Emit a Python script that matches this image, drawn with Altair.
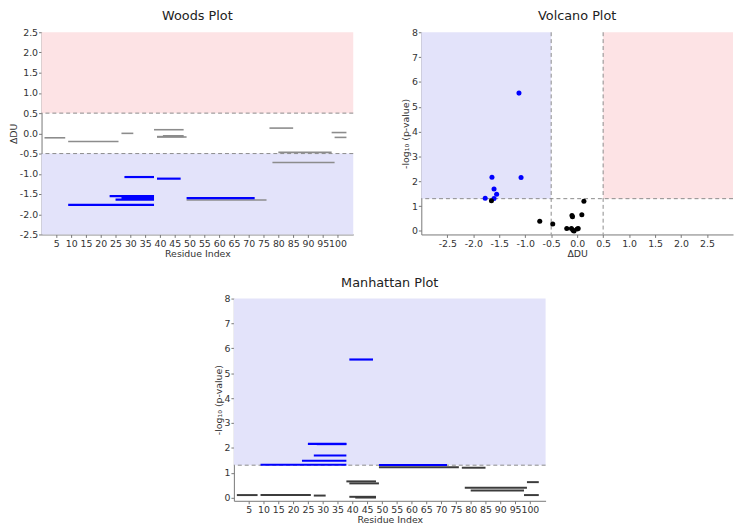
import altair as alt
import pandas as pd

# ---- peptide data ----
pep_start = [9, 23, 25, 27, 28, 39, 49, 1, 9, 27, 38, 39, 39, 41, 49, 77, 80, 78, 98, 99]
pep_end = [38, 38, 38, 38, 38, 47, 72, 8, 26, 31, 48, 49, 48, 48, 76, 85, 98, 99, 103, 103]
delta_du = [-1.77, -1.55, -1.64, -1.60, -1.08, -1.12, -1.60, -0.11, -0.20, 0.00, 0.09, -0.09,
            -0.08, -0.06, -1.65, 0.13, -0.47, -0.72, 0.02, -0.10]
neg_log_p = [1.32, 1.48, 2.16, 1.69, 2.15, 5.55, 1.31, 0.10, 0.10, 0.08, 0.65, 0.57,
             0.03, 0.00, 1.22, 1.20, 0.28, 0.39, 0.10, 0.62]

du_cut = 0.5
p_cut = 1.30103

residue_ticks = list(range(5, 101, 5))
du_ticks = [-2.5, -2.0, -1.5, -1.0, -0.5, 0.0, 0.5, 1.0, 1.5, 2.0, 2.5]
volcano_x_ticks = [-2.5, -2.0, -1.5, -1.0, -0.5, 0.0, 0.5, 1.0, 1.5, 2.0, 2.5]
p_ticks = [0, 1, 2, 3, 4, 5, 6, 7, 8]

BLUE_BG = "#e3e3fa"
RED_BG = "#fde3e5"
W, H = 316, 205
HYPHEN = "replace(format(datum.value, '.1f'), '\u2212', '-')"

df = pd.DataFrame({"start": pep_start, "end": pep_end, "ddu": delta_du, "p": neg_log_p})
df["sig"] = (df["p"] > p_cut) & (df["ddu"].abs() > du_cut)
sig_df = df[df["sig"]]
ns_df = df[~df["sig"]]

res_scale = alt.Scale(domain=[0, 105.3], nice=False, zero=False)
res_axis = alt.Axis(values=residue_ticks, tickCount=100, title="Residue Index",
                    labelOverlap=False, labelFlush=False, grid=False)

# ---------------- Woods plot ----------------
woods_y_scale = alt.Scale(domain=[-2.5, 2.5], nice=False)
woods_y_axis = alt.Axis(values=du_ticks, tickCount=100, labelExpr=HYPHEN, title="ΔDU",
                        grid=False, labelOverlap=False)

woods_bands = pd.DataFrame({"y": [du_cut, -2.5], "y2": [2.5, -du_cut], "c": [RED_BG, BLUE_BG]})
w_bg = alt.Chart(woods_bands).mark_rect().encode(
    x=alt.value(0), x2=alt.value(W),
    y=alt.Y("y:Q", scale=woods_y_scale, axis=woods_y_axis), y2="y2:Q",
    color=alt.Color("c:N", scale=None),
)
w_rules = alt.Chart(pd.DataFrame({"y": [du_cut, -du_cut]})).mark_rule(
    color="#8a8a8a", strokeDash=[4, 3], strokeWidth=1
).encode(y="y:Q")
w_ns = alt.Chart(ns_df).mark_rule(color="#8c8c8c", strokeWidth=1.6).encode(
    x=alt.X("start:Q", scale=res_scale, axis=res_axis), x2="end:Q",
    y=alt.Y("ddu:Q", scale=woods_y_scale),
)
w_sig = alt.Chart(sig_df).mark_rule(color="#0000ff", strokeWidth=2.2).encode(
    x=alt.X("start:Q", scale=res_scale), x2="end:Q",
    y=alt.Y("ddu:Q", scale=woods_y_scale),
)
woods = alt.layer(w_bg, w_rules, w_ns, w_sig).properties(
    width=W, height=H, title="Woods Plot"
)

# ---------------- Volcano plot ----------------
vx_scale = alt.Scale(domain=[-3, 3], nice=False, zero=False)
vy_scale = alt.Scale(domain=[-0.14, 8], nice=False, zero=False)
vx_axis = alt.Axis(values=volcano_x_ticks, tickCount=100, labelExpr=HYPHEN, title="ΔDU",
                   grid=False, labelOverlap=False)
vy_axis = alt.Axis(values=p_ticks, tickCount=100, format="d", title="-log₁₀ (p-value)",
                   grid=False, labelOverlap=False)

v_bands = pd.DataFrame({"x": [-3, du_cut], "x2": [-du_cut, 3], "y": [p_cut, p_cut],
                        "y2": [8, 8], "c": [BLUE_BG, RED_BG]})
v_bg = alt.Chart(v_bands).mark_rect().encode(
    x=alt.X("x:Q", scale=vx_scale, axis=vx_axis), x2="x2:Q",
    y=alt.Y("y:Q", scale=vy_scale, axis=vy_axis), y2="y2:Q",
    color=alt.Color("c:N", scale=None),
)
v_vrules = alt.Chart(pd.DataFrame({"x": [-du_cut, du_cut]})).mark_rule(
    color="#8a8a8a", strokeDash=[4, 3], strokeWidth=1
).encode(x=alt.X("x:Q", scale=vx_scale))
v_hrule = alt.Chart(pd.DataFrame({"y": [p_cut]})).mark_rule(
    color="#8a8a8a", strokeDash=[4, 3], strokeWidth=1
).encode(y=alt.Y("y:Q", scale=vy_scale))
v_pts = alt.Chart(df).mark_circle(size=26, opacity=1).encode(
    x=alt.X("ddu:Q", scale=vx_scale),
    y=alt.Y("p:Q", scale=vy_scale),
    color=alt.Color("sig:N", scale=alt.Scale(domain=[False, True], range=["#000000", "#0000ff"]),
                    legend=None),
)
volcano = alt.layer(v_bg, v_vrules, v_hrule, v_pts).properties(
    width=W, height=H, title="Volcano Plot"
)

# ---------------- Manhattan plot ----------------
my_scale = alt.Scale(domain=[-0.13, 8], nice=False, zero=False)
my_axis = alt.Axis(values=p_ticks, tickCount=100, format="d", title="-log₁₀ (p-value)",
                   grid=False, labelOverlap=False)

m_band = pd.DataFrame({"y": [p_cut], "y2": [8]})
m_bg = alt.Chart(m_band).mark_rect(color=BLUE_BG).encode(
    x=alt.value(0), x2=alt.value(W),
    y=alt.Y("y:Q", scale=my_scale, axis=my_axis), y2="y2:Q",
)
m_rule = alt.Chart(pd.DataFrame({"y": [p_cut]})).mark_rule(
    color="#8a8a8a", strokeDash=[4, 3], strokeWidth=1
).encode(y=alt.Y("y:Q", scale=my_scale))
m_ns = alt.Chart(ns_df).mark_rule(color="#3c3c3c", strokeWidth=2).encode(
    x=alt.X("start:Q", scale=res_scale, axis=res_axis), x2="end:Q",
    y=alt.Y("p:Q", scale=my_scale),
)
m_sig = alt.Chart(sig_df).mark_rule(color="#0000ff", strokeWidth=2.2).encode(
    x=alt.X("start:Q", scale=res_scale), x2="end:Q",
    y=alt.Y("p:Q", scale=my_scale),
)
manhattan = alt.layer(m_bg, m_rule, m_ns, m_sig).properties(
    width=W, height=H, title="Manhattan Plot"
)

spacer = alt.Chart(pd.DataFrame({"a": [0]})).mark_point(opacity=0).encode(
    x=alt.value(0), y=alt.value(0)
).properties(width=173, height=10)

top = alt.hconcat(woods, volcano, spacing=46)
bottom = alt.hconcat(spacer, manhattan, spacing=0)

chart = alt.vconcat(top, bottom, spacing=19).properties(
    padding={"top": -1, "left": 0, "right": 0, "bottom": 0}
).configure_view(
    stroke=None
).configure_axis(
    labelFont="DejaVu Sans", titleFont="DejaVu Sans", labelFontSize=9.5, titleFontSize=9.5,
    titleFontWeight="normal", labelColor="#333333", titleColor="#333333",
    domainColor="#777777", tickColor="#777777", tickSize=3, labelPadding=1, titlePadding=1,
).configure_title(
    font="DejaVu Sans", fontSize=13, fontWeight="normal", color="#222222", offset=0,
    anchor="middle",
).configure_concat(spacing=0)

chart.save("out.html", embed_options={"renderer": "svg", "actions": False})
